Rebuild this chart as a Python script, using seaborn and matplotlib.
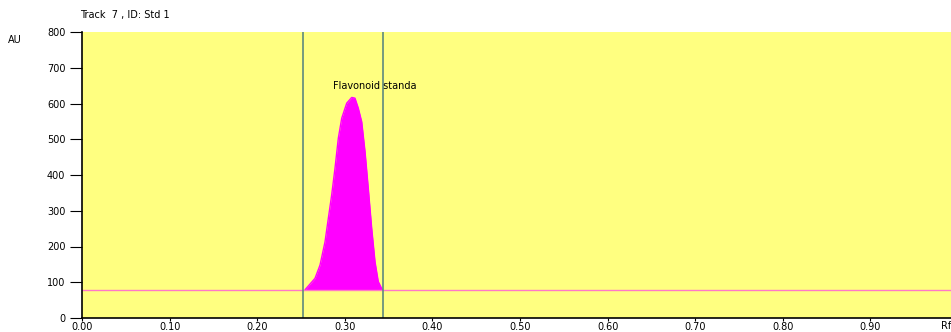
import pandas as pd
import seaborn as sns
import matplotlib.pyplot as plt

# peak profile
rf = [0.2546, 0.2660, 0.2717, 0.2774, 0.2812, 0.2850, 0.2888, 0.2926, 0.2965, 0.3022,
      0.3079, 0.3116, 0.3154, 0.3193, 0.3231, 0.3268, 0.3307, 0.3345, 0.3382, 0.3428]
au = [79, 111, 148, 213, 279, 344, 419, 503, 559, 601,
      617, 615, 587, 549, 465, 363, 251, 157, 102, 79]
baseline = 79
peak_start = 0.2523
peak_end = 0.3436
peak_name = "Flavonoid standa"
title = "Track  7 , ID: Std 1"
y_ticks = [0, 100, 200, 300, 400, 500, 600, 700, 800]
x_ticks = [0.0, 0.1, 0.2, 0.3, 0.4, 0.5, 0.6, 0.7, 0.8, 0.9]

df = pd.DataFrame({"Rf": rf, "AU": au})

sns.set_style("ticks")
plt.rcParams["font.family"] = ["DejaVu Sans"]
plt.rcParams["text.color"] = "black"
plt.rcParams["xtick.color"] = "black"
plt.rcParams["ytick.color"] = "black"
plt.rcParams["axes.edgecolor"] = "black"

fig = plt.figure(figsize=(9.51, 3.32), dpi=100)
ax = fig.add_axes([82 / 951, 14 / 332, 1 - 82 / 951, 286 / 332])
ax.set_facecolor("#FFFF80")

ax.fill_between(df["Rf"], baseline, df["AU"], color="#FF00FF", linewidth=0)
sns.lineplot(data=df, x="Rf", y="AU", ax=ax, color="#FF00FF", linewidth=1)
ax.axhline(baseline, color="#FF77C8", linewidth=1)
ax.axvline(peak_start, color="#5E8A7E", linewidth=1.2)
ax.axvline(peak_end, color="#5E8A7E", linewidth=1.2)

ax.text(0.286, 648, peak_name, fontsize=7, ha="left", va="center")

ax.set_xlim(0, 0.992)
ax.set_ylim(0, 800)
ax.set_xticks(x_ticks)
ax.set_xticklabels([f"{v:.2f}" for v in x_ticks], fontsize=7)
ax.set_yticks(y_ticks)
ax.set_yticklabels([str(v) for v in y_ticks], fontsize=7)
ax.tick_params(axis="y", length=9, width=0.8, pad=3)
ax.tick_params(axis="x", length=2, width=0.8, pad=1)
ax.set_xlabel("")
ax.set_ylabel("")
for side in ["top", "right"]:
    ax.spines[side].set_visible(False)
ax.spines["left"].set_linewidth(1.2)
ax.spines["bottom"].set_linewidth(1.2)

fig.text(80 / 951, 1 - 15 / 332, title, fontsize=7, va="center")
fig.text(8 / 951, 1 - 40 / 332, "AU", fontsize=7, va="center")
fig.text(941 / 951, 1 / 332, "Rf", fontsize=7, va="bottom")

fig.savefig("out.png", dpi=100)
